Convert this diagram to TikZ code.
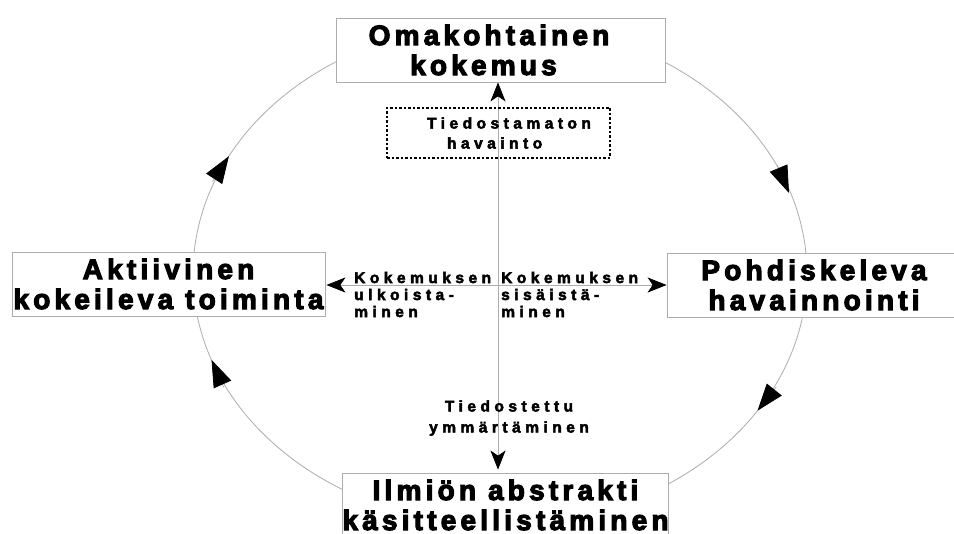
\documentclass[tikz,border=0pt]{standalone}
\usepackage{fontspec}
\usetikzlibrary{arrows.meta}
\newfontfamily\bigfont[FakeBold=4,LetterSpace=15]{Liberation Sans Bold}
\newfontfamily\smallfont[FakeBold=3,LetterSpace=29]{Liberation Sans Bold}
\definecolor{linegray}{gray}{0.68}
\tikzset{
  bigbox/.style={draw=linegray, line width=0.8pt, fill=white, inner sep=0pt,
    align=center, font=\bigfont\fontsize{28}{30}\selectfont},
  dotbox/.style={draw=black, line width=1.4pt, dash pattern=on 2.5pt off 2pt,
    inner sep=0pt, align=left, font=\smallfont\fontsize{15.5}{20}\selectfont},
  lab/.style={inner sep=0pt, align=left, font=\smallfont\fontsize{15.5}{17}\selectfont},
  labc/.style={inner sep=0pt, align=center, font=\smallfont\fontsize{15.5}{21}\selectfont},
  cyc/.style={draw=linegray, line width=0.8pt},
  twoway/.style={draw=linegray, line width=0.8pt,
    {Stealth[length=19pt,width=15pt,inset=5pt,color=black]}-{Stealth[length=19pt,width=15pt,inset=5pt,color=black]}},
  cyctip/.style={draw=linegray, line width=0.8pt,
    -{Triangle[length=27pt,width=19pt,color=black]}}
}
\begin{document}
\begin{tikzpicture}[x=1pt,y=-1pt]
\useasboundingbox (0,0) rectangle (954,534);
\fill[white] (0,0) rectangle (954,534);
\clip (0,0) rectangle (954,534);

% cycle
\draw[cyc] (500,274) ellipse [x radius=307, y radius=251];
\coordinate (t1) at (789,193);     \coordinate (s1) at (777.4,165.3);
\coordinate (t2) at (757.5,410.7); \coordinate (s2) at (776.2,387.2);
\coordinate (t3) at (211.5,359.8); \coordinate (s3) at (223.7,387.2);
\coordinate (t4) at (228.9,156.2); \coordinate (s4) at (212.5,181.4);
\draw[cyctip] (s1) -- (t1);
\draw[cyctip] (s2) -- (t2);
\draw[cyctip] (s3) -- (t3);
\draw[cyctip] (s4) -- (t4);

% boxes
\node[bigbox, minimum width=329pt, minimum height=64pt] (top) at (500.5,50)
  {Omakohtainen\hspace*{23pt}\\kokemus\hspace*{34pt}};
\node[bigbox, minimum width=313pt, minimum height=64pt] (left) at (168.5,284)
  {Aktiivinen\\kokeileva toiminta};
\node[bigbox, minimum width=294pt, minimum height=64pt] (right) at (814,285)
  {Pohdiskeleva\\havainnointi};
\node[bigbox, minimum width=325pt, minimum height=64pt] (bot) at (505.5,505)
  {Ilmiön abstrakti\\käsitteellistäminen};

% axes
\coordinate (vx) at (498,0);
\coordinate (hy) at (0,285);
\draw[twoway, shorten <=3pt] (bot.north -| vx) -- (top.south -| vx);
\draw[twoway, shorten <=1pt] (left.east |- hy) -- (right.west |- hy);

\node[dotbox, minimum width=223pt, minimum height=50pt] (unc) at (498.5,133)
  {\hspace*{21pt}Tiedostamaton\\\hspace*{41pt}havainto};

\node[lab, anchor=west] (ulk) at (354,294.5) {Kokemuksen\\ulkoista-\\minen};
\node[lab, anchor=west] (sis) at (501,294.5) {Kokemuksen\\sisäistä-\\minen};
\node[labc] (ymm) at (509,418) {Tiedostettu\\ymmärtäminen};
\end{tikzpicture}
\end{document}
